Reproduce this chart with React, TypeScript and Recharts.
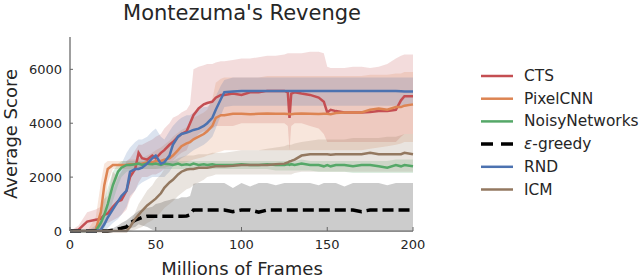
import React from 'react';
import { ComposedChart, Line, Area, XAxis, YAxis } from 'recharts';

const frames = [0,5,10,15,18,20,22,25,28,30,33,35,38,40,42,45,48,50,53,55,58,60,63,65,68,70,72,75,78,80,83,85,88,90,95,100,105,110,115,120,125,127,128,129,131,135,140,145,148,150,152,155,160,165,170,175,180,185,190,193,195,200];

const cts = [0,50,350,420,450,600,650,900,1100,1150,
 1500,2000,2300,2900,2700,2650,2800,2700,2900,3000,
 3200,3300,3500,3600,3700,4000,4300,4550,4700,4750,
 4800,4950,5050,5050,5100,5050,5150,5150,5200,5200,
 5200,5150,4200,5100,5150,5100,5050,4950,4800,4400,
 4500,4450,4400,4400,4400,4420,4450,4450,4500,4850,
 5000,5000];
const ctsLo = [0,0,0,100,100,300,300,400,500,600,
 800,1200,1500,1800,2000,2000,2100,2100,2200,2300,
 2500,2600,2800,2900,3000,3300,3400,3600,3700,3700,
 3800,3900,3900,3900,3900,4000,4000,4000,4000,4000,
 4000,3900,3000,3900,4000,4000,3900,3800,3600,3300,
 3300,3300,3300,3300,3300,3300,3300,3300,3300,3500,
 3600,3600];
const ctsHi = [0,200,700,800,900,1200,1300,2200,2000,2200,
 2600,2700,3000,3200,3200,3300,3400,3500,3600,3800,
 4000,4200,4300,4400,4500,4700,6000,6100,6150,6200,
 6200,6250,6300,6300,6350,6400,6400,6450,6500,6500,
 6550,6600,6600,6600,6600,6600,6650,6650,6600,6100,
 6050,6050,6050,6100,6100,6050,6100,6200,6400,6500,
 6550,6550];

const pixel = [0,0,0,50,700,1700,2300,2450,2450,2450,
 2450,2480,2480,2500,2500,2550,2550,2600,2600,2650,
 2700,2800,3000,3150,3250,3300,3400,3500,3600,3700,
 3900,4200,4300,4300,4350,4350,4330,4350,4360,4350,
 4350,4340,4350,4330,4350,4360,4350,4340,4350,4350,
 4330,4380,4400,4400,4400,4500,4550,4500,4600,4600,
 4650,4700];
const pixelLo = [0,0,0,0,0,600,1800,2300,2300,2300,
 2300,2300,2300,2300,2300,2300,2300,2300,2350,2350,
 2400,2400,2450,2500,2550,2600,2650,2700,2750,2800,
 2850,2900,2950,3000,3000,3000,3000,3000,3000,3000,
 3000,3000,3000,3000,3000,3000,3000,3000,3000,3000,
 3000,3000,3000,3000,3000,3050,3100,3150,3200,3250,
 3300,3300];
const pixelHi = [0,0,0,500,1800,2500,2600,2600,2600,2600,
 2600,2650,2650,2700,2700,2800,2900,3000,3100,3200,
 3350,3500,3650,3750,3850,4000,4200,4300,4400,4500,
 4900,5500,5650,5700,5700,5700,5700,5700,5750,5750,
 5750,5750,5750,5750,5750,5750,5750,5750,5750,5750,
 5750,5750,5750,5750,5750,5800,5800,5800,5850,5850,
 5900,5900];

const noisy = [0,0,0,0,300,600,1000,1700,2200,2350,
 2450,2450,2480,2500,2450,2500,2480,2500,2450,2500,
 2480,2450,2500,2450,2480,2450,2500,2450,2480,2450,
 2480,2450,2450,2450,2450,2480,2450,2450,2480,2450,
 2450,2480,2450,2480,2450,2500,2450,2450,2400,2450,
 2400,2450,2450,2400,2450,2450,2400,2350,2450,2400,
 2450,2400];
const noisyLo = [0,0,0,0,0,100,400,1100,1700,2000,
 2200,2250,2300,2300,2300,2300,2300,2300,2300,2300,
 2300,2300,2300,2300,2300,2300,2300,2300,2300,2300,
 2300,2300,2300,2300,2300,2300,2300,2300,2300,2250,
 2250,2250,2250,2250,2250,2250,2250,2200,2200,2200,
 2200,2200,2200,2150,2150,2150,2150,2150,2150,2150,
 2150,2150];
const noisyHi = [0,0,0,100,800,1200,1600,2200,2500,2600,
 2600,2600,2600,2600,2600,2600,2600,2600,2600,2600,
 2600,2600,2600,2600,2600,2600,2600,2600,2600,2600,
 2600,2600,2600,2600,2600,2600,2600,2600,2600,2600,
 2600,2600,2600,2600,2600,2650,2600,2600,2600,2600,
 2600,2600,2600,2600,2600,2600,2600,2600,2650,2650,
 2650,2650];

const egreedy = [0,0,0,0,0,0,0,30,80,100,
 150,300,400,450,500,550,550,550,550,550,
 550,550,550,550,560,600,780,780,780,780,
 780,780,780,780,720,780,780,700,780,780,
 780,780,780,780,780,780,780,780,780,780,
 780,780,780,780,720,780,780,780,780,780,
 780,780];
const egreedyLo = [0,0,0,0,0,0,0,0,0,0,
 50,100,150,250,200,150,50,0,0,0,
 0,0,0,0,0,0,0,0,0,0,
 0,0,0,0,0,0,0,0,0,0,
 0,0,0,0,0,0,0,0,0,0,
 0,0,0,0,0,0,0,0,0,0,
 0,0];
const egreedyHi = [0,0,0,0,0,0,0,100,200,300,
 400,500,650,750,800,850,900,1000,1050,1100,
 1150,1200,1200,1250,1250,1300,1750,1780,1780,1780,
 1780,1780,1780,1780,1600,1780,1650,1780,1780,1700,
 1780,1780,1780,1780,1780,1780,1780,1700,1780,1780,
 1780,1780,1650,1780,1780,1780,1780,1700,1780,1780,
 1780,1780];

const rnd = [0,0,0,0,50,250,500,800,1100,1300,
 1500,2200,2300,2300,2350,2500,2700,2800,2500,2550,
 2800,3200,3500,3600,3650,3700,3750,3800,3900,4000,
 4200,4500,4900,5150,5180,5200,5200,5200,5200,5200,
 5200,5200,5200,5200,5200,5200,5200,5200,5200,5200,
 5200,5200,5200,5200,5200,5200,5200,5200,5200,5190,
 5180,5180];
const rndLo = [0,0,0,0,0,0,100,300,450,600,
 900,1300,1500,1700,1800,1900,2000,2000,2000,2000,
 2200,2400,2600,2700,2800,2900,3000,3100,3200,3300,
 3500,3800,4300,4600,4650,4650,4650,4650,4650,4650,
 4650,4650,4650,4650,4650,4650,4650,4650,4650,4650,
 4650,4650,4650,4650,4650,4650,4650,4650,4650,4650,
 4650,4650];
const rndHi = [0,0,0,200,400,700,1000,1500,2000,2500,
 2900,3100,3300,3400,3400,3500,3700,3800,3500,3400,
 3700,3900,4100,4200,4300,4300,4400,4500,4600,4600,
 4800,5000,5400,5600,5700,5700,5700,5700,5700,5700,
 5700,5700,5700,5700,5700,5700,5700,5700,5700,5700,
 5700,5700,5700,5700,5700,5700,5700,5700,5700,5700,
 5700,5700];

const icm = [0,0,0,0,0,0,0,0,0,0,
 0,150,450,600,750,950,1100,1200,1400,1600,
 1800,1900,2100,2200,2280,2300,2300,2350,2350,2350,
 2380,2400,2400,2400,2420,2450,2450,2450,2450,2480,
 2500,2550,2580,2600,2650,2800,2850,2850,2850,2850,
 2830,2850,2850,2850,2850,2900,2850,2850,2850,2850,
 2900,2850];
const icmLo = [0,0,0,0,0,0,0,0,0,0,
 0,0,50,100,150,300,400,500,700,850,
 1000,1100,1300,1400,1550,1600,1700,1800,1900,2000,
 2050,2100,2100,2100,2100,2100,2100,2100,2100,2100,
 2100,2100,2100,2100,2150,2200,2200,2200,2200,2200,
 2200,2200,2200,2200,2200,2200,2200,2200,2200,2200,
 2200,2200];
const icmHi = [0,0,0,0,0,0,0,0,0,0,
 0,300,700,1000,1200,1500,1700,1900,2100,2300,
 2500,2600,2700,2750,2800,2800,2800,2850,2850,2850,
 2900,2900,2900,2900,2950,3000,3000,3000,3050,3100,
 3150,3200,3200,3200,3250,3300,3350,3400,3400,3400,
 3400,3400,3400,3450,3450,3450,3450,3500,3500,3550,
 3600,3600];

const xTicks = [0, 50, 100, 150, 200];
const yTicks = [0, 2000, 4000, 6000];

const seriesNames = ['CTS', 'PixelCNN', 'NoisyNetworks', '\u03b5-greedy', 'RND', 'ICM'];

const series = [
  { key: 'cts', name: seriesNames[0], color: '#C44E52', vals: cts, lo: ctsLo, hi: ctsHi, dash: undefined as string | undefined },
  { key: 'pixel', name: seriesNames[1], color: '#DD8452', vals: pixel, lo: pixelLo, hi: pixelHi, dash: undefined },
  { key: 'noisy', name: seriesNames[2], color: '#55A868', vals: noisy, lo: noisyLo, hi: noisyHi, dash: undefined },
  { key: 'eg', name: seriesNames[3], color: '#000000', vals: egreedy, lo: egreedyLo, hi: egreedyHi, dash: '11 5' },
  { key: 'rnd', name: seriesNames[4], color: '#4C72B0', vals: rnd, lo: rndLo, hi: rndHi, dash: undefined },
  { key: 'icm', name: seriesNames[5], color: '#937860', vals: icm, lo: icmLo, hi: icmHi, dash: undefined },
];

const data = frames.map((f, i) => {
  const row: Record<string, any> = { x: f };
  series.forEach((s) => {
    row[s.key] = s.vals[i];
    row[s.key + 'Band'] = [s.lo[i], s.hi[i]];
  });
  return row;
});

const FONT = '"DejaVu Sans", sans-serif';
const TEXT = '#262626';
const AXIS = '#666666';

export default function App() {
  return (
    <div style={{ position: 'absolute', left: 0, top: 0, width: 640, height: 279, background: '#fff' }}>
      <ComposedChart width={640} height={279} data={data} margin={{ top: 37, right: 227, left: 0, bottom: 0 }}>
        <XAxis
          dataKey="x"
          type="number"
          domain={[0, 200]}
          ticks={xTicks}
          height={48}
          tickSize={-4}
          tickMargin={13}
          axisLine={{ stroke: AXIS, strokeWidth: 1.25 }}
          tickLine={{ stroke: AXIS, strokeWidth: 1 }}
          tick={{ fill: TEXT, fontSize: 13, fontFamily: FONT }}
        />
        <YAxis
          type="number"
          domain={[0, 7200]}
          ticks={yTicks}
          width={70}
          tickSize={-3}
          tickMargin={11}
          axisLine={{ stroke: AXIS, strokeWidth: 1.25 }}
          tickLine={{ stroke: AXIS, strokeWidth: 1 }}
          tick={{ fill: TEXT, fontSize: 13, fontFamily: FONT }}
        />
        {series.map((s) => (
          <Area
            key={s.key + 'Band'}
            dataKey={s.key + 'Band'}
            type="linear"
            stroke="none"
            fill={s.color}
            fillOpacity={0.2}
            isAnimationActive={false}
            dot={false}
            activeDot={false}
          />
        ))}
        {series.map((s) => (
          <Line
            key={s.key}
            dataKey={s.key}
            name={s.name}
            type="linear"
            stroke={s.color}
            strokeWidth={s.dash ? 3.5 : 2.5}
            strokeDasharray={s.dash}
            dot={false}
            activeDot={false}
            isAnimationActive={false}
          />
        ))}
      </ComposedChart>
      <svg width={640} height={279} style={{ position: 'absolute', left: 0, top: 0, pointerEvents: 'none' }}>
        <text x={242} y={20} textAnchor="middle" fontFamily={FONT} fontSize={21} fill={TEXT}>Montezuma's Revenge</text>
        <text x={242} y={275} textAnchor="middle" fontFamily={FONT} fontSize={18} fill={TEXT}>Millions of Frames</text>
        <text x={17} y={134} textAnchor="middle" fontFamily={FONT} fontSize={18} fill={TEXT} transform="rotate(-90 17 134)">Average Score</text>
        {series.map((s, i) => (
          <g key={s.key}>
            <line x1={481} x2={513} y1={76 + i * 22.7} y2={76 + i * 22.7} stroke={s.color} strokeWidth={s.dash ? 3.5 : 2.5} strokeDasharray={s.dash ? '12 8' : undefined} />
            <text x={524} y={76 + i * 22.7} dominantBaseline="central" fontFamily={FONT} fontSize={15.4} fill={TEXT}>
              {s.dash ? (
                <>
                  <tspan fontStyle="italic">{s.name.slice(0, 1)}</tspan>
                  <tspan>{s.name.slice(1)}</tspan>
                </>
              ) : s.name}
            </text>
          </g>
        ))}
      </svg>
    </div>
  );
}
